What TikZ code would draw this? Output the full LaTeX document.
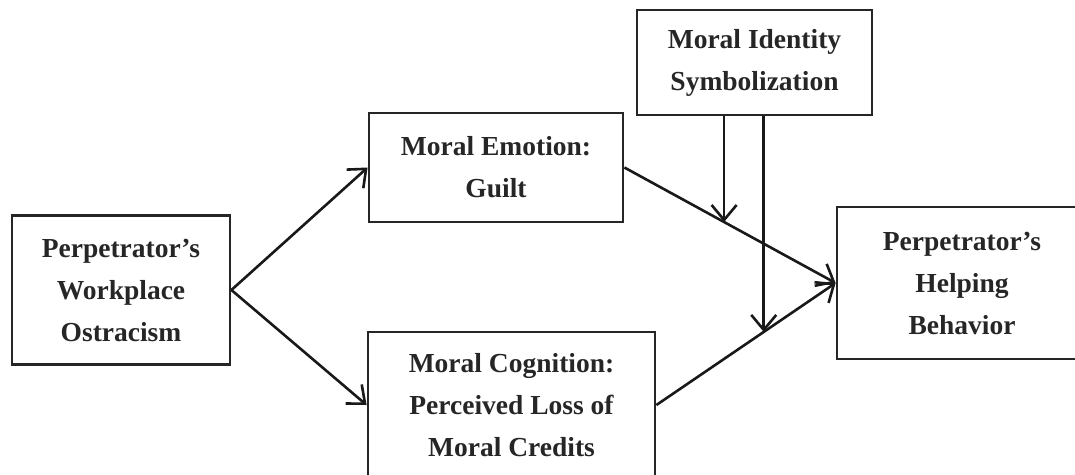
\documentclass[tikz,border=0pt]{standalone}
\usepackage{fontspec}
\setmainfont{Liberation Serif}
\usetikzlibrary{arrows.meta}
\begin{document}
\begin{tikzpicture}[x=1pt,y=-1pt,
  box/.style={draw=black!85, line width=2.8pt, align=center, inner sep=0pt,
    font=\fontsize{27.5}{42}\selectfont\bfseries, text=black!85},
  arr/.style={draw=black!90, line width=2.6pt, -{Straight Barb[length=15pt,width=25pt,line width=2.6pt]}}]
\useasboundingbox (0,0) rectangle (1075,474);
\clip (0,0) rectangle (1075,474);
\node[box, minimum width=218pt, minimum height=149pt] (L) at (121,290) {Perpetrator’s\\Workplace\\Ostracism};
\node[box, minimum width=254pt, minimum height=109pt] (E) at (496,167.5) {Moral Emotion:\\Guilt};
\node[box, minimum width=287pt, minimum height=146pt] (C) at (511.5,405) {Moral Cognition:\\Perceived Loss of\\Moral Credits};
\node[box, minimum width=235pt, minimum height=105pt] (M) at (754.5,62.5) {Moral Identity\\Symbolization};
\node[box, minimum width=250pt, minimum height=152pt] (H) at (962,283) {Perpetrator’s\\Helping\\Behavior};
\draw[arr] (L.east) -- (E.west);
\draw[arr] (L.east) -- (C.west);
\draw[arr] (E.east) -- coordinate[pos=0.472] (m1) (H.west);
\draw[arr] (C.east) -- coordinate[pos=0.599] (m2) (H.west);
\draw[arr] (M.south -| m1) -- (m1);
\draw[arr] (M.south -| m2) -- (m2);
\end{tikzpicture}
\end{document}
